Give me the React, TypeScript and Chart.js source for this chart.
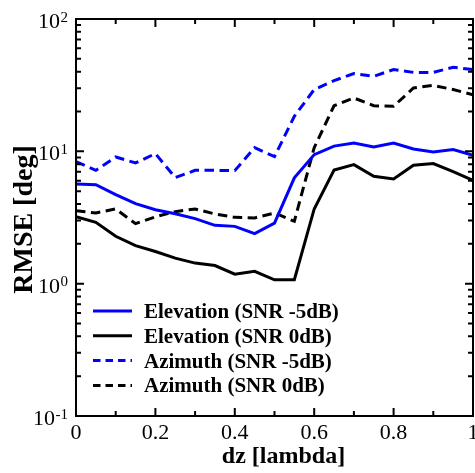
import React, { useEffect, useRef } from 'react';
import { Chart, registerables } from 'chart.js';

Chart.register(...registerables);

// ---- data ----
const dz = [0, 0.05, 0.1, 0.15, 0.2, 0.25, 0.3, 0.35, 0.4, 0.45, 0.5, 0.55, 0.6, 0.65, 0.7, 0.75, 0.8, 0.85, 0.9, 0.95, 1];
const elevationSnrM5 = [5.67, 5.6, 4.71, 4.02, 3.62, 3.38, 3.1, 2.76, 2.71, 2.39, 2.87, 6.3, 9.44, 10.95, 11.57, 10.8, 11.57, 10.43, 9.89, 10.3, 9.33];
const elevationSnr0 = [3.21, 2.91, 2.28, 1.94, 1.75, 1.56, 1.43, 1.37, 1.18, 1.24, 1.07, 1.07, 3.67, 7.21, 7.93, 6.47, 6.19, 7.84, 8.08, 7.02, 6.04];
const azimuthSnrM5 = [8.36, 7.18, 9.07, 8.17, 9.61, 6.33, 7.18, 7.18, 7.15, 10.66, 9.12, 18.4, 29.3, 34.2, 38.7, 36.9, 41.5, 39.5, 39.5, 43.2, 41.5];
const azimuthSnr0 = [3.56, 3.42, 3.67, 2.84, 3.2, 3.5, 3.67, 3.36, 3.17, 3.14, 3.42, 2.96, 10.66, 22.1, 25.3, 22.1, 21.9, 30.1, 31.5, 29.3, 26.8];

const seriesLabels = ['Elevation (SNR -5dB)', 'Elevation (SNR 0dB)', 'Azimuth (SNR -5dB)', 'Azimuth (SNR 0dB)'];
const xMajorTicks = [0, 0.2, 0.4, 0.6, 0.8, 1];
const xMajorTickLabels = ['0', '0.2', '0.4', '0.6', '0.8', '1'];
const xMinorTicks = [0.1, 0.3, 0.5, 0.7, 0.9];
const yExponents = [-1, 0, 1, 2];
const yMinorMultipliers = [2, 3, 4, 5, 6, 7, 8, 9];
const xTitle = 'dz [lambda]';
const yTitle = 'RMSE [deg]';

const SERIF = '"Liberation Serif", "Times New Roman", serif';
const DASH = [9.5, 5.5];
const LEGEND_DASH = [7.5, 5];

const framePlugin = {
  id: 'framePlugin',
  afterDraw(chart: any) {
    const ctx = chart.ctx as CanvasRenderingContext2D;
    const { left, right, top, bottom } = chart.chartArea;
    const xs = chart.scales.x;
    const ys = chart.scales.y;
    ctx.save();
    ctx.strokeStyle = '#000';
    ctx.fillStyle = '#000';
    ctx.lineWidth = 2;
    ctx.setLineDash([]);
    ctx.strokeRect(left, top, right - left, bottom - top);

    const major = 8;
    const minor = 5;
    ctx.beginPath();
    const xt = (v: number, len: number) => {
      const px = xs.getPixelForValue(v);
      ctx.moveTo(px, bottom);
      ctx.lineTo(px, bottom - len);
      ctx.moveTo(px, top);
      ctx.lineTo(px, top + len);
    };
    xMajorTicks.forEach((v) => xt(v, major));
    xMinorTicks.forEach((v) => xt(v, minor));
    const yt = (v: number, len: number) => {
      const py = ys.getPixelForValue(v);
      ctx.moveTo(left, py);
      ctx.lineTo(left + len, py);
      ctx.moveTo(right, py);
      ctx.lineTo(right - len, py);
    };
    yExponents.forEach((e, i) => {
      yt(Math.pow(10, e), major);
      if (i < yExponents.length - 1) {
        yMinorMultipliers.forEach((m) => yt(m * Math.pow(10, e), minor));
      }
    });
    ctx.stroke();

    // x tick labels
    ctx.font = `22px ${SERIF}`;
    ctx.textAlign = 'center';
    ctx.textBaseline = 'alphabetic';
    xMajorTicks.forEach((v, i) => {
      ctx.fillText(xMajorTickLabels[i], xs.getPixelForValue(v), bottom + 23);
    });

    // y tick labels 10^e
    yExponents.forEach((e) => {
      const py = ys.getPixelForValue(Math.pow(10, e));
      const expRight = left - 8;
      ctx.font = `15px ${SERIF}`;
      ctx.textAlign = 'right';
      const expText = e < 0 ? '-' + Math.abs(e) : String(e);
      const w = ctx.measureText(expText).width;
      ctx.fillText(expText, expRight, py + 2.5);
      ctx.font = `22px ${SERIF}`;
      ctx.fillText('10', expRight - w - 0.5, py + 9);
    });

    // axis titles
    ctx.font = `bold 24px ${SERIF}`;
    ctx.textAlign = 'center';
    ctx.fillText(xTitle, (left + right) / 2 + 9, bottom + 47);
    ctx.save();
    ctx.translate(left - 44, (top + bottom) / 2 + 2);
    ctx.rotate(-Math.PI / 2);
    ctx.font = `bold 28px ${SERIF}`;
    ctx.fillText(yTitle, 0, 0);
    ctx.restore();

    // legend
    const rowGap = 24.8;
    const firstRowY = bottom - 105;
    chart.data.datasets.forEach((ds: any, i: number) => {
      const y = firstRowY + i * rowGap;
      ctx.beginPath();
      ctx.strokeStyle = ds.borderColor;
      ctx.lineWidth = 3;
      ctx.setLineDash(ds.borderDash ? LEGEND_DASH : []);
      ctx.moveTo(left + 17, y);
      ctx.lineTo(left + 56, y);
      ctx.stroke();
      ctx.setLineDash([]);
      ctx.fillStyle = '#000';
      ctx.font = `bold 21px ${SERIF}`;
      ctx.textAlign = 'left';
      ctx.fillText(ds.label, left + 68, y + 7);
    });
    ctx.restore();
  },
};

export default function App() {
  const ref = useRef<HTMLCanvasElement | null>(null);
  useEffect(() => {
    if (!ref.current) return;
    const mk = (vals: number[]) => dz.map((x, i) => ({ x, y: vals[i] }));
    const chart = new Chart(ref.current, {
      type: 'line',
      data: {
        datasets: [
          { label: seriesLabels[0], data: mk(elevationSnrM5), borderColor: '#0000ff', borderWidth: 3, pointRadius: 0, fill: false, tension: 0 },
          { label: seriesLabels[1], data: mk(elevationSnr0), borderColor: '#000000', borderWidth: 3, pointRadius: 0, fill: false, tension: 0 },
          { label: seriesLabels[2], data: mk(azimuthSnrM5), borderColor: '#0000ff', borderWidth: 3, borderDash: DASH, pointRadius: 0, fill: false, tension: 0 },
          { label: seriesLabels[3], data: mk(azimuthSnr0), borderColor: '#000000', borderWidth: 3, borderDash: DASH, pointRadius: 0, fill: false, tension: 0 },
        ],
      },
      options: {
        animation: false,
        responsive: false,
        devicePixelRatio: 1,
        layout: { padding: { left: 76, top: 19, right: 2, bottom: 57 } },
        plugins: { legend: { display: false }, tooltip: { enabled: false } },
        scales: {
          x: { type: 'linear', min: 0, max: 1, display: false },
          y: { type: 'logarithmic', min: 0.1, max: 100, display: false },
        },
      },
      plugins: [framePlugin],
    });
    return () => chart.destroy();
  }, []);
  return (
    <div style={{ position: 'absolute', left: 0, top: 0, width: 475, height: 473, background: '#fff' }}>
      <canvas ref={ref} width={475} height={473} />
    </div>
  );
}
